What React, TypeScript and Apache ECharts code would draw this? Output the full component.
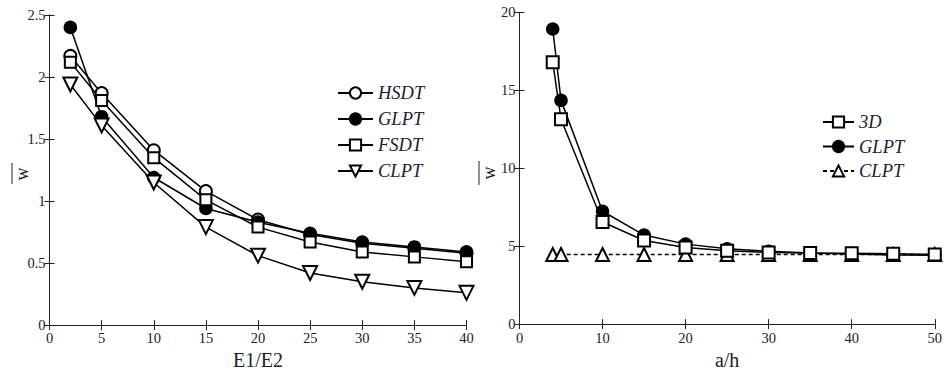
import React, { useEffect, useRef } from "react";
import * as echarts from "echarts";

// Left panel: E1/E2 ratio
const ratioX = [2, 5, 10, 15, 20, 25, 30, 35, 40];
const hsdt = [2.17, 1.87, 1.41, 1.08, 0.85, 0.73, 0.66, 0.62, 0.58];
const glptRatio = [2.4, 1.68, 1.19, 0.94, 0.83, 0.74, 0.67, 0.63, 0.59];
const fsdt = [2.12, 1.81, 1.35, 1.01, 0.79, 0.67, 0.59, 0.55, 0.51];
const clptRatio = [1.94, 1.61, 1.15, 0.79, 0.56, 0.42, 0.35, 0.3, 0.26];

// Right panel: a/h
const aspectX = [4, 5, 10, 15, 20, 25, 30, 35, 40, 45, 50];
const threeD = [16.8, 13.14, 6.55, 5.36, 4.92, 4.71, 4.6, 4.56, 4.55, 4.52, 4.46];
const glptAspect = [18.93, 14.35, 7.24, 5.71, 5.13, 4.83, 4.67, 4.56, 4.5, 4.43, 4.42];
const clptAspect = [4.46, 4.46, 4.46, 4.46, 4.46, 4.46, 4.46, 4.46, 4.46, 4.46, 4.46];

const leftLegend = ["HSDT", "GLPT", "FSDT", "CLPT"];
const rightLegend = ["3D", "GLPT_b", "CLPT_b"];

const FONT = "'Liberation Serif', 'DejaVu Serif', serif";
const INK = "#222";

const pairs = (xs: number[], ys: number[]) => xs.map((x, i) => [x, ys[i]]);

function axisCommon(show: boolean) {
  return {
    axisLine: { show: true, lineStyle: { color: INK, width: 1 } },
    axisTick: { show: true, inside: true, length: 5, lineStyle: { color: INK } },
    axisLabel: {
      show,
      color: INK,
      fontFamily: FONT,
      fontSize: 14.5,
    },
    splitLine: { show: false },
  };
}

function lineSeries(
  name: string,
  data: number[][],
  xi: number,
  yi: number,
  symbol: string,
  size: number,
  extra: any = {}
) {
  return {
    name,
    type: "line",
    xAxisIndex: xi,
    yAxisIndex: yi,
    data,
    symbol,
    symbolSize: size,
    showAllSymbol: true,
    lineStyle: { color: "#000", width: 1.5, ...(extra.lineStyle || {}) },
    itemStyle: { color: "#000", borderColor: "#000", borderWidth: 1.5 },
    symbolRotate: extra.rotate || 0,
    emphasis: { disabled: true },
    z: extra.z || 2,
  };
}

export default function App() {
  const ref = useRef<HTMLDivElement>(null);

  useEffect(() => {
    if (!ref.current) return;
    const chart = echarts.init(ref.current, null, { renderer: "svg" });
    const strip = (n: string) => n.replace("_b", "");
    const legendText = {
      fontFamily: FONT,
      fontStyle: "italic",
      fontSize: 18.5,
      color: "#1c1c38",
      lineHeight: 20,
    };
    chart.setOption({
      animation: false,
      backgroundColor: "#fff",
      grid: [
        { left: 49.5, top: 15, width: 417, height: 313 },
        { left: 519.5, top: 12.3, width: 417, height: 318.7 },
      ],
      xAxis: [
        {
          gridIndex: 0,
          type: "value",
          position: "bottom",
          min: 0,
          max: 40,
          interval: 5,
          name: "E1/E2",
          nameLocation: "middle",
          nameGap: 22,
          nameTextStyle: { fontFamily: FONT, fontSize: 20, color: INK },
          ...axisCommon(true),
          axisLabel: { ...axisCommon(true).axisLabel, margin: 5 },
        },
        { gridIndex: 0, type: "value", position: "top", min: 0, max: 40, interval: 5, ...axisCommon(false) },
        {
          gridIndex: 1,
          type: "value",
          position: "bottom",
          min: 0,
          max: 50,
          interval: 10,
          name: "a/h",
          nameLocation: "middle",
          nameGap: 24,
          nameTextStyle: { fontFamily: FONT, fontSize: 20, color: INK },
          ...axisCommon(true),
          axisLabel: { ...axisCommon(true).axisLabel, margin: 6 },
        },
        { gridIndex: 1, type: "value", position: "top", min: 0, max: 50, interval: 10, ...axisCommon(false) },
      ],
      yAxis: [
        {
          gridIndex: 0,
          type: "value",
          position: "left",
          min: 0,
          max: 2.5,
          interval: 0.5,
          ...axisCommon(true),
          axisLabel: { ...axisCommon(true).axisLabel, margin: 4 },
        },
        { gridIndex: 0, type: "value", position: "right", min: 0, max: 2.5, interval: 0.5, ...axisCommon(false) },
        {
          gridIndex: 1,
          type: "value",
          position: "left",
          min: 0,
          max: 20,
          interval: 5,
          ...axisCommon(true),
          axisLabel: { ...axisCommon(true).axisLabel, margin: 4 },
        },
        { gridIndex: 1, type: "value", position: "right", min: 0, max: 20, interval: 5, ...axisCommon(false) },
      ],
      legend: [
        {
          orient: "vertical",
          left: 337,
          top: 83,
          padding: 0,
          itemWidth: 35,
          itemHeight: 14,
          itemGap: 6,
          data: leftLegend,
          textStyle: legendText,
          formatter: strip,
          selectedMode: false,
        },
        {
          orient: "vertical",
          left: 822,
          top: 112,
          padding: 0,
          itemWidth: 31,
          itemHeight: 14,
          itemGap: 4.5,
          data: rightLegend,
          textStyle: legendText,
          formatter: strip,
          selectedMode: false,
        },
      ],
      graphic: [
        { type: "line", shape: { x1: 12, y1: 163, x2: 12, y2: 184 }, style: { stroke: INK, lineWidth: 1 } },
        {
          type: "text",
          x: 22,
          y: 174,
          rotation: Math.PI / 2,
          style: { text: "w", font: `18px ${FONT}`, fill: INK, align: "center", verticalAlign: "middle" },
        },
        { type: "line", shape: { x1: 479, y1: 161, x2: 479, y2: 185 }, style: { stroke: INK, lineWidth: 1 } },
        {
          type: "text",
          x: 489,
          y: 173,
          rotation: Math.PI / 2,
          style: { text: "w", font: `18px ${FONT}`, fill: INK, align: "center", verticalAlign: "middle" },
        },
      ],
      series: [
        lineSeries("HSDT", pairs(ratioX, hsdt), 0, 0, "emptyCircle", 12),
        lineSeries("GLPT", pairs(ratioX, glptRatio), 0, 0, "circle", 12),
        lineSeries("FSDT", pairs(ratioX, fsdt), 0, 0, "emptyRect", 11),
        lineSeries("CLPT", pairs(ratioX, clptRatio), 0, 0, "emptyTriangle", 14, { rotate: 180 }),
        lineSeries("CLPT_b", pairs(aspectX, clptAspect), 2, 2, "emptyTriangle", 13, {
          lineStyle: { type: [4, 3] },
          z: 2,
        }),
        lineSeries("GLPT_b", pairs(aspectX, glptAspect), 2, 2, "circle", 12, { z: 3 }),
        lineSeries("3D", pairs(aspectX, threeD), 2, 2, "emptyRect", 12, { z: 4 }),
      ],
    });
    return () => chart.dispose();
  }, []);

  return (
    <div
      ref={ref}
      style={{ position: "fixed", left: 0, top: 0, width: 945, height: 375, background: "#fff" }}
    />
  );
}
